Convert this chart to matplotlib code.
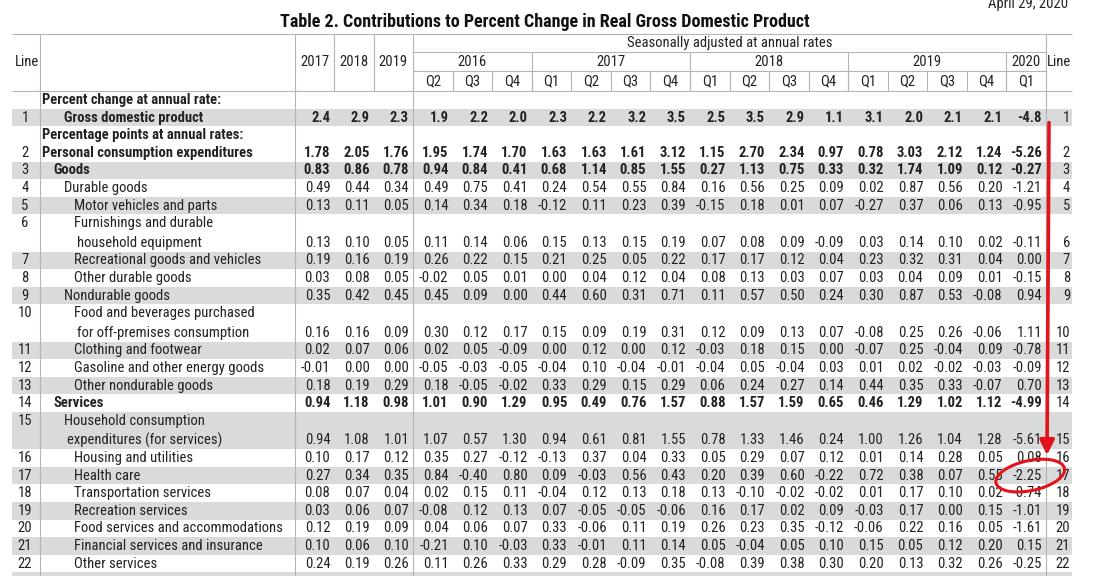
import matplotlib
matplotlib.use('Agg')
import matplotlib.pyplot as plt
from matplotlib.patches import Ellipse, Rectangle

plt.rcParams['font.family'] = ['Roboto Condensed', 'PT Sans Narrow', 'Liberation Sans']

title = 'Table 2. Contributions to Percent Change in Real Gross Domestic Product'
release_date = 'April 29, 2020'
annual_cols = ['2017', '2018', '2019']
quarter_groups = ['2016', '2017', '2018', '2019', '2020']
quarter_cols = [['Q2', 'Q3', 'Q4'], ['Q1', 'Q2', 'Q3', 'Q4'], ['Q1', 'Q2', 'Q3', 'Q4'],
                ['Q1', 'Q2', 'Q3', 'Q4'], ['Q1']]

labels = ['Gross domestic product', 'Personal consumption expenditures', 'Goods',
          'Durable goods', 'Motor vehicles and parts',
          'Furnishings and durable\nhousehold equipment',
          'Recreational goods and vehicles', 'Other durable goods', 'Nondurable goods',
          'Food and beverages purchased\nfor off-premises consumption',
          'Clothing and footwear', 'Gasoline and other energy goods', 'Other nondurable goods',
          'Services', 'Household consumption\nexpenditures (for services)',
          'Housing and utilities', 'Health care', 'Transportation services',
          'Recreation services', 'Food services and accommodations',
          'Financial services and insurance', 'Other services']
levels = [2, 0, 1, 2, 3, 3, 3, 3, 2, 3, 3, 3, 3, 1, 2, 3, 3, 3, 3, 3, 3, 3]
bold_lines = [1, 2, 3, 14]
sections = {1: 'Percent change at annual rate:', 2: 'Percentage points at annual rates:'}

values = [
    [2.4, 2.9, 2.3, 1.9, 2.2, 2.0, 2.3, 2.2, 3.2, 3.5, 2.5, 3.5, 2.9, 1.1, 3.1, 2.0, 2.1, 2.1, -4.8],
    [1.78, 2.05, 1.76, 1.95, 1.74, 1.70, 1.63, 1.63, 1.61, 3.12, 1.15, 2.70, 2.34, 0.97, 0.78, 3.03, 2.12, 1.24, -5.26],
    [0.83, 0.86, 0.78, 0.94, 0.84, 0.41, 0.68, 1.14, 0.85, 1.55, 0.27, 1.13, 0.75, 0.33, 0.32, 1.74, 1.09, 0.12, -0.27],
    [0.49, 0.44, 0.34, 0.49, 0.75, 0.41, 0.24, 0.54, 0.55, 0.84, 0.16, 0.56, 0.25, 0.09, 0.02, 0.87, 0.56, 0.20, -1.21],
    [0.13, 0.11, 0.05, 0.14, 0.34, 0.18, -0.12, 0.11, 0.23, 0.39, -0.15, 0.18, 0.01, 0.07, -0.27, 0.37, 0.06, 0.13, -0.95],
    [0.13, 0.10, 0.05, 0.11, 0.14, 0.06, 0.15, 0.13, 0.15, 0.19, 0.07, 0.08, 0.09, -0.09, 0.03, 0.14, 0.10, 0.02, -0.11],
    [0.19, 0.16, 0.19, 0.26, 0.22, 0.15, 0.21, 0.25, 0.05, 0.22, 0.17, 0.17, 0.12, 0.04, 0.23, 0.32, 0.31, 0.04, 0.00],
    [0.03, 0.08, 0.05, -0.02, 0.05, 0.01, 0.00, 0.04, 0.12, 0.04, 0.08, 0.13, 0.03, 0.07, 0.03, 0.04, 0.09, 0.01, -0.15],
    [0.35, 0.42, 0.45, 0.45, 0.09, 0.00, 0.44, 0.60, 0.31, 0.71, 0.11, 0.57, 0.50, 0.24, 0.30, 0.87, 0.53, -0.08, 0.94],
    [0.16, 0.16, 0.09, 0.30, 0.12, 0.17, 0.15, 0.09, 0.19, 0.31, 0.12, 0.09, 0.13, 0.07, -0.08, 0.25, 0.26, -0.06, 1.11],
    [0.02, 0.07, 0.06, 0.02, 0.05, -0.09, 0.00, 0.12, 0.00, 0.12, -0.03, 0.18, 0.15, 0.00, -0.07, 0.25, -0.04, 0.09, -0.78],
    [-0.01, 0.00, 0.00, -0.05, -0.03, -0.05, -0.04, 0.10, -0.04, -0.01, -0.04, 0.05, -0.04, 0.03, 0.01, 0.02, -0.02, -0.03, -0.09],
    [0.18, 0.19, 0.29, 0.18, -0.05, -0.02, 0.33, 0.29, 0.15, 0.29, 0.06, 0.24, 0.27, 0.14, 0.44, 0.35, 0.33, -0.07, 0.70],
    [0.94, 1.18, 0.98, 1.01, 0.90, 1.29, 0.95, 0.49, 0.76, 1.57, 0.88, 1.57, 1.59, 0.65, 0.46, 1.29, 1.02, 1.12, -4.99],
    [0.94, 1.08, 1.01, 1.07, 0.57, 1.30, 0.94, 0.61, 0.81, 1.55, 0.78, 1.33, 1.46, 0.24, 1.00, 1.26, 1.04, 1.28, -5.61],
    [0.10, 0.17, 0.12, 0.35, 0.27, -0.12, -0.13, 0.37, 0.04, 0.33, 0.05, 0.29, 0.07, 0.12, 0.01, 0.14, 0.28, 0.05, 0.08],
    [0.27, 0.34, 0.35, 0.84, -0.40, 0.80, 0.09, -0.03, 0.56, 0.43, 0.20, 0.39, 0.60, -0.22, 0.72, 0.38, 0.07, 0.55, -2.25],
    [0.08, 0.07, 0.04, 0.02, 0.15, 0.11, -0.04, 0.12, 0.13, 0.18, 0.13, -0.10, -0.02, -0.02, 0.01, 0.17, 0.10, 0.02, -0.74],
    [0.03, 0.06, 0.07, -0.08, 0.12, 0.13, 0.07, -0.05, -0.05, -0.06, 0.16, 0.17, 0.02, 0.09, -0.03, 0.17, 0.00, 0.15, -1.01],
    [0.12, 0.19, 0.09, 0.04, 0.06, 0.07, 0.33, -0.06, 0.11, 0.19, 0.26, 0.23, 0.35, -0.12, -0.06, 0.22, 0.16, 0.05, -1.61],
    [0.10, 0.06, 0.10, -0.21, 0.10, -0.03, 0.33, -0.01, 0.11, 0.14, 0.05, -0.04, 0.05, 0.10, 0.15, 0.05, 0.12, 0.20, 0.15],
    [0.24, 0.19, 0.26, 0.11, 0.26, 0.33, 0.29, 0.28, -0.09, 0.35, -0.08, 0.39, 0.38, 0.30, 0.20, 0.13, 0.32, 0.26, -0.25],
]
highlight_line = 17  # circled cell: line 17, 2020 Q1

# layout (pixels)
TXT = '#222222'
GRID = '#b4b4b4'
SHADE = '#d9dadc'
RED = '#e3121b'
FS = 10.5
LEFT, RIGHT = 12, 1072
X_LINE, X_DESC, X_QTR, X_RLINE = 40, 295, 413, 1046
COLW = (X_QTR - X_DESC) / len(annual_cols)
QW = (X_RLINE - X_QTR) / sum(len(q) for q in quarter_cols)
Y_TOP, Y_SA, Y_YR, Y_HDR = 34, 52, 71, 91
PITCH = 17.6
indent_x = {0: 42, 1: 53, 2: 64, 3: 74}

fig = plt.figure(figsize=(10.96, 5.76), dpi=100)
ax = fig.add_axes([0, 0, 1, 1])
ax.set_xlim(0, 1096)
ax.set_ylim(576, 0)
ax.axis('off')

ax.text(545, 22, title, ha='center', va='center', fontsize=13, fontweight='bold', color='#111111')
ax.text(1068, 4, release_date, ha='right', va='center', fontsize=FS, color=TXT)

# column centres
col_x = [X_DESC + COLW * (i + 0.5) for i in range(len(annual_cols))]
q_x = []
k = 0
group_edges = [X_QTR]
for g, qs in zip(quarter_groups, quarter_cols):
    x0 = X_QTR + QW * k
    for q in qs:
        q_x.append(X_QTR + QW * (k + 0.5))
        k += 1
    x1 = X_QTR + QW * k
    group_edges.append(x1)
    ax.text((x0 + x1) / 2, 61.5, g, ha='center', va='center', fontsize=FS, color=TXT)
all_x = col_x + q_x

# header
for x, lab in zip(col_x, annual_cols):
    ax.text(x, 62, lab, ha='center', va='center', fontsize=FS, color=TXT)
q_names = [q for qs in quarter_cols for q in qs]
for x, lab in zip(q_x, q_names):
    ax.text(x, 81, lab, ha='center', va='center', fontsize=FS, color=TXT)
ax.text((X_QTR + X_RLINE) / 2, 43, 'Seasonally adjusted at annual rates', ha='center', va='center',
        fontsize=FS, color=TXT)
ax.text(27, 62, 'Line', ha='center', va='center', fontsize=FS, color=TXT)
ax.text(1059, 62, 'Line', ha='center', va='center', fontsize=FS, color=TXT)

right_edges = [X_DESC + COLW * (c + 1) - 4 for c in range(len(annual_cols))] + \
              [X_QTR + QW * (c + 1) - 4 for c in range(len(q_x))]

# rows
y = 100.0
row_pos = {}
for i, lab in enumerate(labels):
    n = i + 1
    if n in sections:
        ax.text(indent_x[0], y, sections[n], ha='left', va='center', fontsize=FS,
                fontweight='bold', color=TXT)
        y += PITCH
    parts = lab.split('\n')
    y_first = y
    y_last = y + (len(parts) - 1) * (PITCH + 2)
    row_pos[n] = y_last
    if n % 2 == 1:
        ax.add_patch(Rectangle((LEFT, y_first - PITCH / 2), RIGHT - LEFT, y_last - y_first + PITCH,
                               facecolor=SHADE, edgecolor='none', zorder=0))
    weight = 'bold' if n in bold_lines else 'normal'
    for j, p in enumerate(parts):
        ax.text(indent_x[levels[i]] + 3 * j, y_first + j * (PITCH + 2), p, ha='left', va='center',
                fontsize=FS, fontweight=weight, color=TXT)
    ax.text(25, y_first, str(n), ha='center', va='center', fontsize=FS, color=TXT)
    ax.text(1070, y_last, str(n), ha='right', va='center', fontsize=FS, color=TXT)
    fmt = '{:.1f}' if n == 1 else '{:.2f}'
    for xr, v in zip(right_edges, values[i]):
        ax.text(xr, y_last, fmt.format(v), ha='right', va='center', fontsize=FS,
                fontweight=weight, color=TXT)
    y = y_last + PITCH

# top of the next (cropped) shaded row
ax.add_patch(Rectangle((LEFT, y - PITCH / 2), RIGHT - LEFT, 20, facecolor=SHADE, edgecolor='none', zorder=0))

# rules
lw = 0.8
ax.hlines([Y_TOP, Y_HDR], LEFT, RIGHT, color=GRID, lw=lw)
ax.hlines([Y_SA, Y_YR], X_QTR, X_RLINE, color=GRID, lw=lw)
ax.vlines([X_LINE, X_DESC, X_QTR, X_RLINE], Y_TOP, 576, color=GRID, lw=lw)
ax.vlines([X_DESC + COLW * c for c in (1, 2)], Y_TOP, Y_HDR, color=GRID, lw=lw)
ax.vlines(group_edges[1:-1], Y_SA, Y_HDR, color=GRID, lw=lw)
ax.vlines([X_QTR + QW * c for c in range(1, len(q_x))], Y_YR, Y_HDR, color=GRID, lw=lw)

# red hand annotation: arrow down the right edge to a circled cell
ax.annotate('', xy=(1047, row_pos[highlight_line - 1] - 3), xytext=(1049, row_pos[1] + 5),
            arrowprops=dict(arrowstyle='-|>', color=RED, lw=2.6, mutation_scale=22,
                            shrinkA=0, shrinkB=0))
ax.add_patch(Ellipse((all_x[-1] + 4, row_pos[highlight_line]), 70, 30, angle=-12, fill=False,
                     edgecolor=RED, lw=2.2, zorder=5))

fig.savefig('out.png', dpi=100)
